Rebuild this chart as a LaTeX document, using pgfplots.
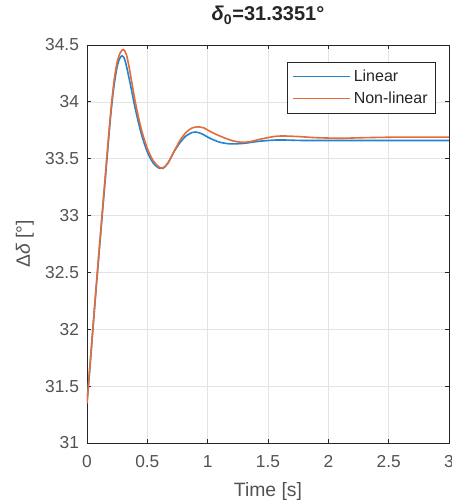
\documentclass[border=0pt]{standalone}
\usepackage{pgfplots}
\pgfplotsset{compat=1.18}
\usepackage{fontspec}
\setmainfont{Liberation Sans}
\definecolor{mblue}{rgb}{0.12,0.52,0.82}
\definecolor{morange}{rgb}{0.90,0.42,0.22}
\definecolor{axgray}{rgb}{0.15,0.15,0.15}
\begin{document}
\begin{tikzpicture}
\begin{axis}[
 scale only axis, width=271.5pt, height=298.5pt,
 xmin=0, xmax=3, ymin=31, ymax=34.5,
 xtick={0,0.5,1,1.5,2,2.5,3},
 ytick={31,31.5,32,32.5,33,33.5,34,34.5},
 grid=major, major grid style={gray!22, line width=0.5pt},
 tick align=inside, major tick length=3pt,
 axis line style={axgray, line width=0.6pt},
 tick style={axgray, line width=0.6pt},
 ticklabel style={font=\fontsize{13}{15}\selectfont, text=axgray!80},
 /pgf/number format/assume math mode=true,
 /pgf/number format/fixed,
 yticklabel style={xshift=-2.5pt},
 xticklabel style={yshift=-6pt},
 xlabel={Time [s]},
 ylabel={Δ\textit{δ} [°]},
 xlabel style={font=\fontsize{14.5}{16}\selectfont, text=axgray!80, at={(axis description cs:0.5,0)}, anchor=center, yshift=-36.75pt},
 ylabel style={font=\fontsize{14.5}{16}\selectfont, text=axgray!80, at={(axis description cs:-0.1713,0.5)}, anchor=center},
 title={{\itshape δ}\textsubscript{0}=31.3351°},
 title style={font=\bfseries\fontsize{15}{17}\selectfont, text=axgray, at={(axis description cs:0.5,1)}, anchor=base, yshift=12pt},
 legend style={at={(axis description cs:1,1)}, anchor=north east, xshift=-9.75pt, yshift=-12.75pt,
   draw=axgray, fill=white, font=\fontsize{12}{14}\selectfont, text=axgray, line width=0.6pt,
   inner xsep=4pt, inner ysep=3.5pt, row sep=2.5pt},
 legend cell align=left,
 legend image code/.code={\draw[#1, line width=1pt] (0pt,0pt) -- (43pt,0pt);},
]
\addplot[mblue, line width=1.2pt, smooth] coordinates {
(0,31.35) (0.025,31.68) (0.05,32.02) (0.075,32.35) (0.1,32.67) (0.125,32.99)
(0.15,33.30) (0.175,33.62) (0.2,33.92) (0.225,34.15) (0.25,34.31) (0.27,34.38)
(0.29,34.405) (0.31,34.38) (0.33,34.30) (0.36,34.15) (0.40,33.94) (0.45,33.72)
(0.50,33.56) (0.55,33.46) (0.60,33.415) (0.63,33.415) (0.67,33.46) (0.72,33.56)
(0.77,33.64) (0.82,33.70) (0.87,33.73) (0.90,33.735) (0.95,33.72) (1.00,33.69)
(1.05,33.665) (1.10,33.645) (1.15,33.635) (1.20,33.63) (1.30,33.635) (1.40,33.65)
(1.50,33.66) (1.60,33.665) (1.80,33.66) (2.00,33.66) (2.50,33.66) (3.00,33.66)
};
\addlegendentry{Linear}
\addplot[morange, line width=1.2pt, smooth] coordinates {
(0,31.35) (0.025,31.68) (0.05,32.02) (0.075,32.36) (0.1,32.69) (0.125,33.01)
(0.15,33.33) (0.175,33.65) (0.2,33.95) (0.225,34.19) (0.25,34.35) (0.275,34.43)
(0.30,34.46) (0.325,34.42) (0.35,34.30) (0.40,34.00) (0.45,33.76) (0.50,33.59)
(0.55,33.48) (0.60,33.425) (0.63,33.42) (0.67,33.46) (0.72,33.56) (0.77,33.66)
(0.82,33.73) (0.87,33.77) (0.92,33.78) (0.97,33.77) (1.02,33.74) (1.10,33.70)
(1.20,33.66) (1.28,33.645) (1.35,33.65) (1.45,33.675) (1.55,33.695) (1.62,33.70)
(1.75,33.695) (1.90,33.685) (2.10,33.68) (2.30,33.685) (2.60,33.69) (3.00,33.69)
};
\addlegendentry{Non-linear}
\end{axis}
\pgfresetboundingbox
\useasboundingbox ([xshift=-65.25pt,yshift=-44.25pt]current axis.south west) rectangle ([xshift=1.5pt,yshift=33.75pt]current axis.north east);
\end{tikzpicture}
\end{document}
